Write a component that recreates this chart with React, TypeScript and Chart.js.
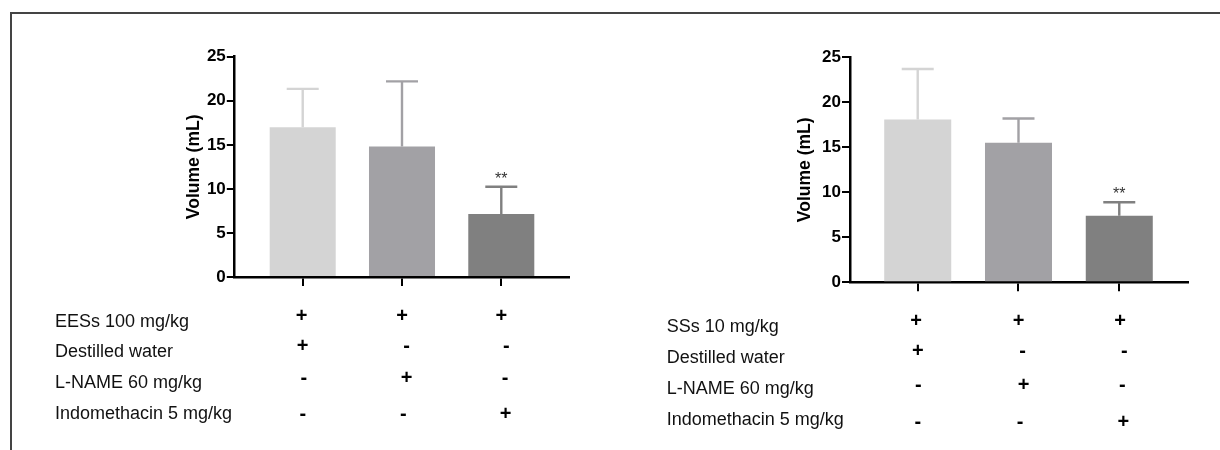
import React, { useEffect, useRef } from 'react';
import { Chart, registerables } from 'chart.js';

Chart.register(...registerables);

// ---------- data ----------
const groups = ['Destilled water', 'L-NAME', 'Indomethacin'];
const eesMeans = [17.0, 14.8, 7.15];
const eesSD = [4.35, 7.4, 3.1];
const ssMeans = [18.1, 15.5, 7.4];
const ssSD = [5.6, 2.7, 1.5];
const sigMarks = ['', '', '**'];
const yTicks = [0, 5, 10, 15, 20, 25];
const yTitle = 'Volume (mL)';
const leftRowLabels = ['EESs 100 mg/kg', 'Destilled water', 'L-NAME 60 mg/kg', 'Indomethacin 5 mg/kg'];
const rightRowLabels = ['SSs 10 mg/kg', 'Destilled water', 'L-NAME 60 mg/kg', 'Indomethacin 5 mg/kg'];
const treatmentMatrix = [
  ['+', '+', '+'],
  ['+', '-', '-'],
  ['-', '+', '-'],
  ['-', '-', '+'],
];

// ---------- styles ----------
const barColors = ['#d4d4d4', '#a2a1a5', '#808080'];
const FONT = '"Liberation Sans", Arial, Helvetica, sans-serif';

type PanelCfg = {
  left: number;
  means: number[];
  sds: number[];
  rowLabels: string[];
  padLeft: number;
  yWidth: number;
  padRight: number;
  padTop: number;
  xHeight: number;
  xMin: number;
  xMax: number;
  labelX: number;
  labelRowsY: number[];
  markRowsY: number[];
  markNudge: number[][];
  yTickLen: number;
};

const leftPanel: PanelCfg = {
  left: 0,
  means: eesMeans,
  sds: eesSD,
  rowLabels: leftRowLabels,
  padLeft: 183.5,
  yWidth: 50.8,
  padRight: 40.7,
  padTop: 56.7,
  xHeight: 173,
  xMin: -0.689,
  xMax: 2.685,
  labelX: 55,
  labelRowsY: [322.5, 351.7, 382.7, 414],
  markRowsY: [316, 346, 378.3, 414.7],
  markNudge: [
    [-1, 0, 0],
    [0, 4.7, 5],
    [1, 4.7, 3.7],
    [0, 1.3, 4.4],
  ],
  yTickLen: 7.5,
};

const rightPanel: PanelCfg = {
  left: 610,
  means: ssMeans,
  sds: ssSD,
  rowLabels: rightRowLabels,
  padLeft: 184.5,
  yWidth: 55.5,
  padRight: 32.3,
  padTop: 57.3,
  xHeight: 167.7,
  xMin: -0.672,
  xMax: 2.679,
  labelX: 56.7,
  labelRowsY: [327.3, 358.3, 389, 420],
  markRowsY: [321.7, 351.7, 385.7, 422.3],
  markNudge: [
    [-1.7, 0, 0.7],
    [0, 4, 5],
    [0.6, 5, 3],
    [0, 1.7, 4],
  ],
  yTickLen: 8,
};

function buildConfig(p: PanelCfg): any {
  const overlay = {
    id: 'overlay',
    afterDatasetsDraw(chart: any) {
      const ctx = chart.ctx;
      const y = chart.scales.y;
      const meta = chart.getDatasetMeta(0);
      meta.data.forEach((bar: any, i: number) => {
        const top = y.getPixelForValue(p.means[i] + p.sds[i]);
        ctx.save();
        ctx.strokeStyle = barColors[i];
        ctx.lineWidth = 2.4;
        ctx.beginPath();
        ctx.moveTo(bar.x, bar.y);
        ctx.lineTo(bar.x, top);
        ctx.moveTo(bar.x - 16, top);
        ctx.lineTo(bar.x + 16, top);
        ctx.stroke();
        if (sigMarks[i]) {
          ctx.fillStyle = '#333';
          ctx.font = `16px ${FONT}`;
          ctx.textAlign = 'center';
          ctx.textBaseline = 'alphabetic';
          ctx.fillText(sigMarks[i], bar.x, top - 3);
        }
        ctx.restore();
      });
    },
    afterDraw(chart: any) {
      const ctx = chart.ctx;
      const xs = chart.scales.x;
      ctx.save();
      ctx.fillStyle = '#111';
      ctx.font = `18px ${FONT}`;
      ctx.textAlign = 'left';
      ctx.textBaseline = 'middle';
      p.rowLabels.forEach((lab, r) => {
        ctx.fillText(lab, p.labelX, p.labelRowsY[r]);
      });
      ctx.fillStyle = '#000';
      ctx.font = `bold 20px ${FONT}`;
      ctx.textAlign = 'center';
      treatmentMatrix.forEach((row, r) => {
        row.forEach((m, c) => {
          const x = xs.getPixelForValue(c) + p.markNudge[r][c];
          ctx.fillText(m, x, p.markRowsY[r]);
        });
      });
      ctx.restore();
    },
  };

  return {
    type: 'bar',
    data: {
      datasets: [
        {
          label: yTitle,
          data: groups.map((g, i) => ({ x: i, y: p.means[i] })),
          backgroundColor: barColors,
          borderWidth: 0,
          barPercentage: 0.665,
          categoryPercentage: 1,
        },
      ],
    },
    options: {
      animation: false,
      responsive: false,
      devicePixelRatio: 1,
      layout: {
        padding: { left: p.padLeft, right: p.padRight, top: p.padTop, bottom: 0 },
      },
      plugins: {
        legend: { display: false },
        tooltip: { enabled: false },
        title: { display: false },
      },
      scales: {
        x: {
          type: 'linear',
          offset: false,
          min: p.xMin,
          max: p.xMax,
          afterBuildTicks: (scale: any) => {
            scale.ticks = groups.map((g, i) => ({ value: i }));
          },
          afterFit: (scale: any) => {
            scale.height = p.xHeight;
          },
          ticks: { display: false },
          grid: {
            display: true,
            offset: false,
            drawOnChartArea: false,
            drawTicks: true,
            tickLength: 9,
            color: '#000',
            lineWidth: 2,
          },
          border: { display: true, color: '#000', width: 2.5 },
        },
        y: {
          type: 'linear',
          min: 0,
          max: 25,
          afterBuildTicks: (scale: any) => {
            scale.ticks = yTicks.map((v) => ({ value: v }));
          },
          afterFit: (scale: any) => {
            scale.width = p.yWidth;
          },
          ticks: {
            color: '#000',
            padding: 1,
            font: { family: FONT, size: 17, weight: 'bold' },
          },
          grid: {
            display: true,
            drawOnChartArea: false,
            drawTicks: true,
            tickLength: p.yTickLen,
            color: '#000',
            lineWidth: 2,
          },
          border: { display: true, color: '#000', width: 2.5 },
          title: {
            display: true,
            text: yTitle,
            color: '#000',
            padding: 0,
            font: { family: FONT, size: 17.5, weight: 'bold' },
          },
        },
      },
    },
    plugins: [overlay],
  };
}

function Panel({ cfg }: { cfg: PanelCfg }) {
  const ref = useRef<HTMLCanvasElement>(null);
  useEffect(() => {
    const chart = new Chart(ref.current as HTMLCanvasElement, buildConfig(cfg));
    return () => chart.destroy();
  }, [cfg]);
  return (
    <canvas
      ref={ref}
      width={610}
      height={450}
      style={{ position: 'absolute', left: cfg.left, top: 0, width: 610, height: 450 }}
    />
  );
}

export default function App() {
  return (
    <div
      style={{
        position: 'fixed',
        left: 0,
        top: 0,
        width: 1220,
        height: 450,
        background: '#fff',
        overflow: 'hidden',
      }}
    >
      <div
        style={{
          position: 'absolute',
          left: 10,
          top: 12,
          width: 1240,
          height: 460,
          borderTop: '2px solid #444',
          borderLeft: '2px solid #444',
          boxSizing: 'border-box',
        }}
      />
      <Panel cfg={leftPanel} />
      <Panel cfg={rightPanel} />
    </div>
  );
}
